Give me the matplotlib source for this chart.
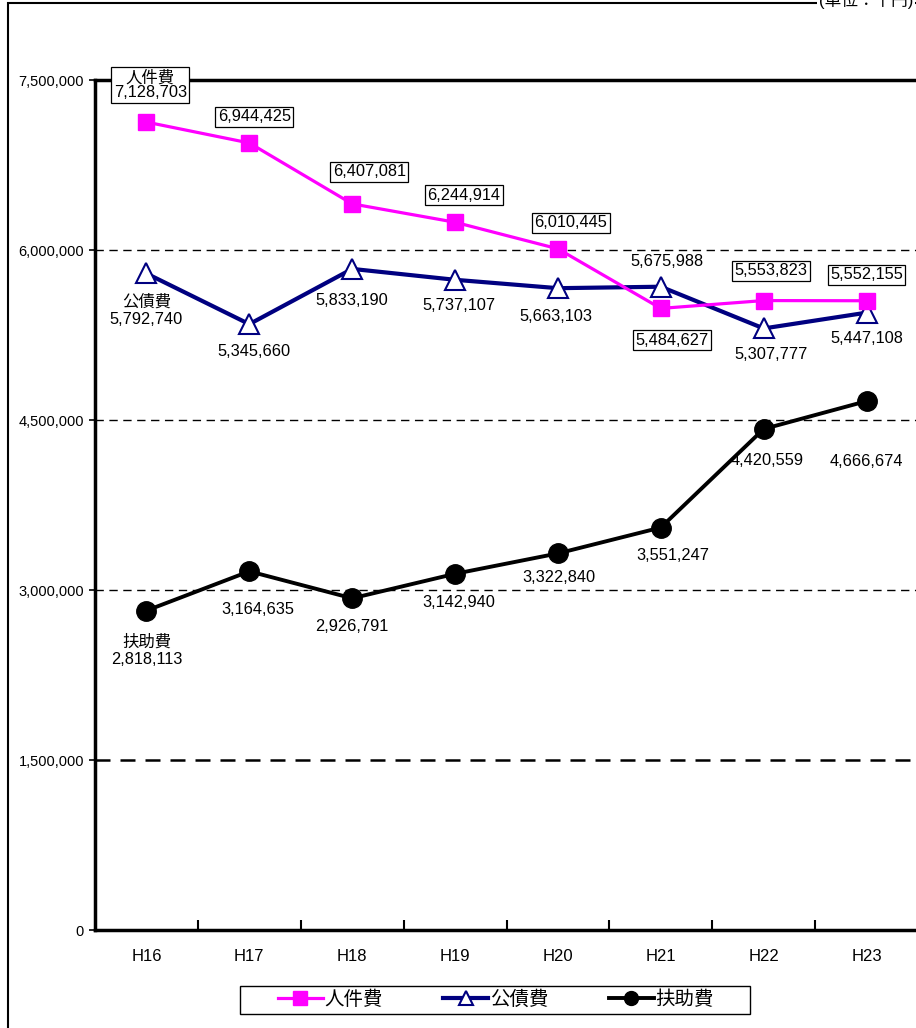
import matplotlib
matplotlib.use("Agg")
import matplotlib.pyplot as plt
from matplotlib.patches import Rectangle

plt.rcParams['font.family'] = ['Liberation Sans', 'Noto Sans CJK JP', 'DejaVu Sans']

years = ['H16', 'H17', 'H18', 'H19', 'H20', 'H21', 'H22', 'H23']
jinken = [7128703, 6944425, 6407081, 6244914, 6010445, 5484627, 5553823, 5552155]
kousai = [5792740, 5345660, 5833190, 5737107, 5663103, 5675988, 5307777, 5447108]
fujo = [2818113, 3164635, 2926791, 3142940, 3322840, 3551247, 4420559, 4666674]
yticks = [0, 1500000, 3000000, 4500000, 6000000, 7500000]

# label offsets in pixels (x, y up)
off_jinken = [(4, 37), (5, 26), (17, 32), (9, 27), (13, 26), (11, -32), (7, 30), (0, 26)]
off_kousai = [(0, -37), (5, -27), (0, -32), (4, -26), (-2, -28), (6, 25), (7, -26), (0, -26)]
off_fujo = [(0, -40), (9, -38), (0, -28), (4, -29), (1, -24), (12, -28), (3, -31), (0, -60)]

fig = plt.figure(figsize=(9.16, 10.28), dpi=100)
ax = fig.add_axes([95 / 916, 1 - 930 / 1028, 823 / 916, 850 / 1028])

x = list(range(len(years)))
ax.plot(x, jinken, color='#FF00FF', lw=2.3, marker='s', ms=12, label='人件費', zorder=4)
ax.plot(x, kousai, color='#000080', lw=3.0, marker='^', ms=14, mfc='white', mec='#000080',
        mew=1.5, label='公債費', zorder=3)
ax.plot(x, fujo, color='black', lw=2.8, marker='o', ms=14, label='扶助費', zorder=3)

def fmt(v):
    return f"{v:,}"

for i, v in enumerate(jinken):
    t = fmt(v) if i else '人件費\n' + fmt(v)
    ax.annotate(t, (i, v), xytext=off_jinken[i], textcoords='offset pixels',
                ha='center', va='center', fontsize=11.8, linespacing=1.0, zorder=6,
                annotation_clip=False,
                bbox=dict(boxstyle='square,pad=0.15', fc='white', ec='black', lw=0.9))
for i, v in enumerate(kousai):
    t = fmt(v) if i else '公債費\n' + fmt(v)
    ax.annotate(t, (i, v), xytext=off_kousai[i], textcoords='offset pixels',
                ha='center', va='center', fontsize=11.8, linespacing=1.2, zorder=2,
                bbox=dict(boxstyle='square,pad=0.1', fc='white', ec='none'))
for i, v in enumerate(fujo):
    t = fmt(v) if i else '扶助費\n' + fmt(v)
    ax.annotate(t, (i, v), xytext=off_fujo[i], textcoords='offset pixels',
                ha='center', va='center', fontsize=11.8, linespacing=1.2, zorder=2,
                bbox=dict(boxstyle='square,pad=0.1', fc='white', ec='none'))

ax.set_xlim(-0.5, 7.5)
ax.set_ylim(0, 7500000)
ax.set_yticks(yticks)
ax.set_yticklabels([fmt(v) for v in yticks], fontsize=10.5)
ax.set_xticks(x)
ax.set_xticklabels(years, fontsize=12)
ax.tick_params(axis='x', length=0, pad=14)
ax.set_xticks([i + 0.5 for i in range(len(years))], minor=True)
ax.tick_params(axis='x', which='minor', direction='in', length=7, width=1.5)
ax.tick_params(axis='y', direction='out', length=4, width=1.2, pad=4)

for yv in yticks[1:-1]:
    ax.axhline(yv, color='black', lw=1.8 if yv == 1500000 else 1.0, ls=(0, (6, 4)), zorder=1)

for s in ['left', 'bottom', 'top']:
    ax.spines[s].set_linewidth(2.5)
ax.spines['right'].set_visible(False)

leg = fig.legend(*ax.get_legend_handles_labels(), loc='center',
                 bbox_to_anchor=(496 / 916, 1 - 1000 / 1028), ncol=3, fontsize=14,
                 frameon=False, handlelength=2.3, handletextpad=0.1, columnspacing=3.1)
for h in leg.legend_handles:
    h.set_markersize(10)
# legend box
fig.patches.append(Rectangle((240 / 916, 1 - 1014 / 1028), 510 / 916, 28 / 1028,
                             transform=fig.transFigure, fill=False, ec='black', lw=1.0))

# outer frame
fig.patches.append(Rectangle((8 / 916, -0.05), 1.2, 1.05 - 3 / 1028, transform=fig.transFigure,
                             fill=False, ec='black', lw=1.5))
fig.text(913 / 916, 1.0, '(単位：千円)', ha='right', va='center', fontsize=12,
         bbox=dict(boxstyle='square,pad=0.1', fc='white', ec='none'))

fig.savefig('out.png', dpi=100)
